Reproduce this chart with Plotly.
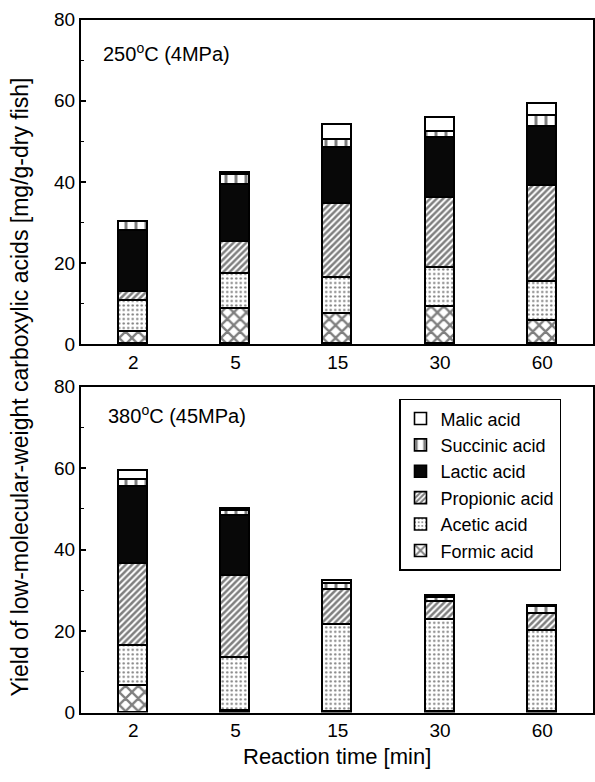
import plotly.graph_objects as go

times = ["2", "5", "15", "30", "60"]
acids = ["Formic acid", "Acetic acid", "Propionic acid", "Lactic acid", "Succinic acid", "Malic acid"]

# 250 C (4 MPa) - component yields [mg/g-dry fish]
top_formic = [3.0, 8.8, 7.6, 9.3, 5.8]
top_acetic = [7.7, 8.5, 8.8, 9.5, 9.5]
top_propionic = [2.3, 8.0, 18.3, 17.4, 23.7]
top_lactic = [15.0, 14.0, 13.8, 14.7, 14.7]
top_succinic = [2.1, 2.4, 2.0, 1.6, 2.5]
top_malic = [0.0, 0.5, 3.7, 3.3, 3.2]

# 380 C (45 MPa)
bot_formic = [6.6, 0.5, 0.3, 0.3, 0.3]
bot_acetic = [9.9, 13.0, 21.2, 22.6, 19.8]
bot_propionic = [20.1, 20.0, 8.8, 4.4, 4.2]
bot_lactic = [18.9, 14.8, 0.0, 0.0, 0.0]
bot_succinic = [1.7, 1.2, 1.4, 1.0, 1.6]
bot_malic = [2.2, 0.5, 0.6, 0.3, 0.3]

yticks = [0, 20, 40, 60, 80]

FONT = "Liberation Sans, Arial, sans-serif"
W, H = 595, 782

styles = [
    dict(color="white", pattern=dict(shape="x", fgcolor="black", bgcolor="white", size=9, solidity=0.45)),
    dict(color="white", pattern=dict(shape=".", fgcolor="black", bgcolor="white", size=4.5, solidity=0.22)),
    dict(color="white", pattern=dict(shape="/", fgcolor="black", bgcolor="white", size=4.5, solidity=0.55)),
    dict(color="#080808"),
    dict(color="white", pattern=dict(shape="|", fgcolor="black", bgcolor="white", size=10, solidity=0.3)),
    dict(color="white"),
]

top_series = [top_formic, top_acetic, top_propionic, top_lactic, top_succinic, top_malic]
bot_series = [bot_formic, bot_acetic, bot_propionic, bot_lactic, bot_succinic, bot_malic]

fig = go.Figure()
for name, vals, st in zip(acids, top_series, styles):
    fig.add_trace(go.Bar(x=times, y=vals, name=name, width=0.285, showlegend=False,
                         marker=dict(line=dict(color="black", width=1.6), **st),
                         xaxis="x", yaxis="y"))
for name, vals, st in zip(acids, bot_series, styles):
    fig.add_trace(go.Bar(x=times, y=vals, name=name, width=0.285, showlegend=True,
                         marker=dict(line=dict(color="black", width=1.6), **st),
                         xaxis="x2", yaxis="y2"))

xdom = [81 / W, 592.5 / W]
top_dom = [(H - 343.3) / H, (H - 10) / H]
bot_dom = [(H - 722) / H, (H - 387) / H]

axis_common = dict(showline=True, linecolor="black", linewidth=2, mirror=True,
                   showgrid=False, zeroline=False,
                   tickfont=dict(family=FONT, size=19, color="black"))
xcommon = dict(axis_common, type="category", categoryorder="array", categoryarray=times,
               range=[-0.51, 4.49], ticks="")
ycommon = dict(axis_common, range=[0, 80], tickvals=yticks, ticks="inside", ticklen=5,
               tickcolor="black", tickwidth=1.5,
               minor=dict(dtick=10, ticks="inside", ticklen=3, tickcolor="black", tickwidth=1))

fig.update_layout(
    width=W, height=H,
    margin=dict(l=0, r=0, t=0, b=0, pad=0),
    paper_bgcolor="white", plot_bgcolor="white",
    barmode="stack", bargap=0,
    font=dict(family=FONT, color="black"),
    xaxis=dict(xcommon, domain=xdom, anchor="y"),
    yaxis=dict(ycommon, domain=top_dom, anchor="x"),
    xaxis2=dict(xcommon, domain=xdom, anchor="y2"),
    yaxis2=dict(ycommon, domain=bot_dom, anchor="x2"),
    legend=dict(x=399 / W, y=(H - 399.5) / H, xanchor="left", yanchor="top",
                traceorder="reversed", bgcolor="white", bordercolor="black", borderwidth=1.5,
                font=dict(family=FONT, size=18, color="black"), tracegroupgap=0,
                itemwidth=30),
    annotations=[
        dict(text="250<sup>o</sup>C (4MPa)", x=101 / W, y=(H - 44) / H, xref="paper", yref="paper",
             xanchor="left", yanchor="middle", showarrow=False,
             font=dict(family=FONT, size=20, color="black")),
        dict(text="380<sup>o</sup>C (45MPa)", x=106 / W, y=(H - 416) / H, xref="paper", yref="paper",
             xanchor="left", yanchor="middle", showarrow=False,
             font=dict(family=FONT, size=20, color="black")),
        dict(text="Reaction time [min]", x=337 / W, y=(H - 767) / H, xref="paper", yref="paper",
             xanchor="center", yanchor="middle", showarrow=False,
             font=dict(family=FONT, size=22, color="black")),
        dict(text="Yield of low-molecular-weight carboxylic acids [mg/g-dry fish]",
             x=20 / W, y=(H - 388) / H, xref="paper", yref="paper", textangle=-90,
             xanchor="center", yanchor="middle", showarrow=False,
             font=dict(family=FONT, size=23, color="black")),
    ],
)

fig.write_html("out.html", config={"displayModeBar": False},
               post_script="document.body.style.margin='0px';")
